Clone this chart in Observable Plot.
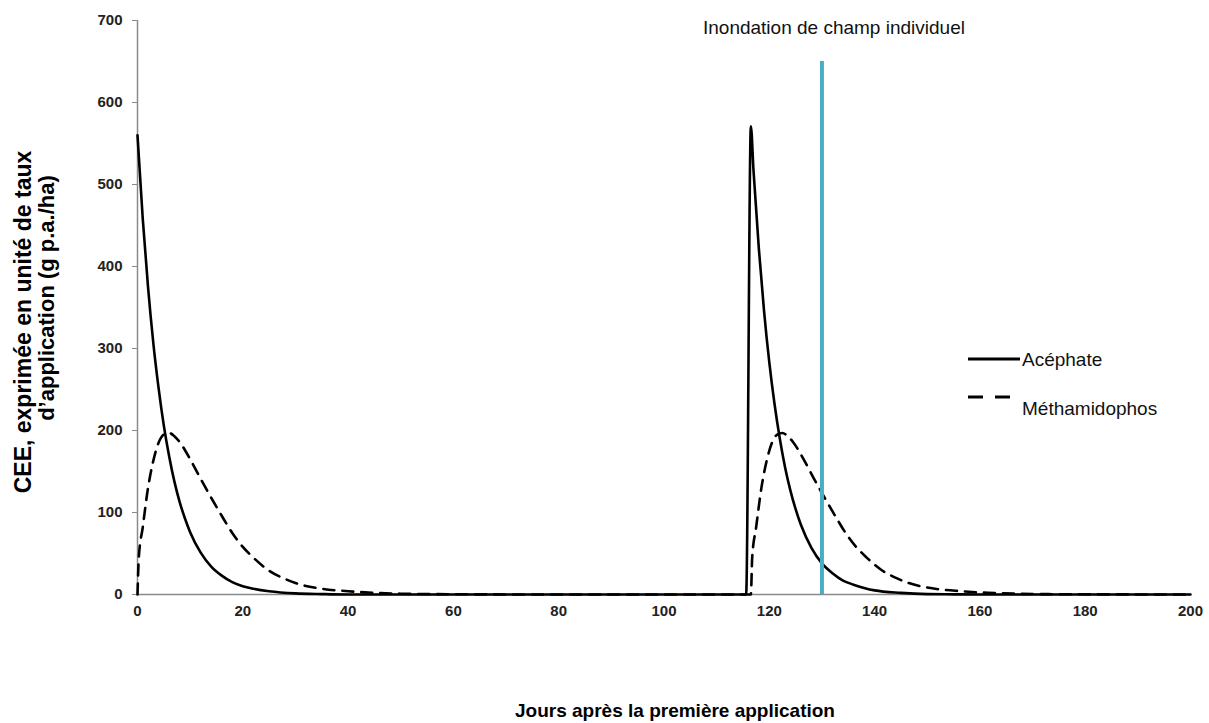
<!DOCTYPE html>
<html>
<head>
<meta charset="utf-8">
<script src="https://cdn.jsdelivr.net/npm/d3@7"></script>
<script src="https://cdn.jsdelivr.net/npm/@observablehq/plot@0.6"></script>
<style>
  html, body { margin: 0; padding: 0; background: #fff; }
  #chart { position: relative; width: 1209px; height: 723px; }
</style>
</head>
<body>
<div id="chart"></div>
<script>
// ---- data ----
const xTicks = [0, 20, 40, 60, 80, 100, 120, 140, 160, 180, 200];
const yTicks = [0, 100, 200, 300, 400, 500, 600, 700];

const acephateDays = [0, 1, 2, 3, 4, 5, 6, 7, 8, 9, 10, 12, 14, 16, 18, 20, 22, 25, 30, 35, 40, 60, 80, 100, 115.6,
  116.5, 117, 118, 119, 120, 121, 122, 123, 124, 125, 126, 128, 130, 132, 134, 136, 138, 140, 145, 150, 155, 160, 180, 200];
const acephateValues = [560, 458, 375, 307, 252, 206, 169, 138, 113, 93, 76, 51, 34, 23, 15, 10, 7, 4, 1.4, 0.5, 0, 0, 0, 0, 0,
  571, 517, 423, 346, 283, 232, 190, 155, 127, 104, 85, 57, 38, 26, 17, 12, 8, 5, 2, 0.5, 0.2, 0, 0, 0];

const methDays = [0, 0.25, 1, 2, 3, 4, 5, 6, 7, 8, 10, 12, 14, 16, 18, 20, 22, 25, 28, 30, 35, 40, 45, 50, 60, 80, 100, 116.5,
  116.75, 117.5, 118.5, 119.5, 120.5, 121.5, 122.5, 123.5, 124.5, 126.5, 128.5, 130.5, 132.5, 134.5, 136.5, 138.5, 141.5, 144.5,
  146.5, 151.5, 156.5, 161.5, 166.5, 176.5, 200];
const methValues = [0, 45, 82, 130, 163, 185, 195, 197, 193, 186, 165, 141, 118, 96, 75, 58, 45, 29, 19, 14, 7, 4, 2, 1, 0.3, 0, 0, 0,
  45, 82, 130, 163, 185, 195, 197, 193, 186, 165, 141, 118, 96, 75, 58, 45, 29, 19,
  14, 7, 4, 2, 1, 0.3, 0];

const floodDay = [130];
const floodTop = 650;
const floodLabel = "Inondation de champ individuel";
const seriesNames = ["Acéphate", "Méthamidophos"];
const xTitle = "Jours après la première application";
const yTitleLines = ["CEE, exprimée en unité de taux", "d\u2019application (g p.a./ha)"];

// ---- tables ----
const acephate = acephateDays.map((d, i) => ({day: d, value: acephateValues[i]}));
const meth = methDays.map((d, i) => ({day: d, value: methValues[i]}));

const FONT = "'Liberation Sans', Arial, Helvetica, sans-serif";
const AXIS_GRAY = "#8a8a8a";

const chart = Plot.plot({
  width: 1209,
  height: 723,
  marginLeft: 137,
  marginRight: 19,
  marginTop: 20,
  marginBottom: 129,
  style: {fontFamily: FONT, fontSize: "15px", background: "#fff", color: "#222"},
  x: {domain: [0, 200]},
  y: {domain: [0, 700]},
  marks: [
    Plot.axisY({ticks: yTicks, tickSize: 5, tickPadding: 10, stroke: AXIS_GRAY, fill: "#222",
      fontWeight: "bold", fontSize: 15, label: null}),
    Plot.axisX({ticks: xTicks, tickSize: 0, tickPadding: 11, fill: "#222",
      fontWeight: "bold", fontSize: 15, label: null}),
    Plot.ruleY([0], {stroke: AXIS_GRAY, strokeWidth: 1.5}),
    Plot.ruleX([0], {stroke: AXIS_GRAY, strokeWidth: 1.5}),
    Plot.line(meth, {x: "day", y: "value", stroke: "#000", strokeWidth: 2.6,
      strokeDasharray: "11,8", curve: "monotone-x"}),
    Plot.line(acephate, {x: "day", y: "value", stroke: "#000", strokeWidth: 2.6, curve: "monotone-x"}),
    Plot.ruleX(floodDay, {y1: 0, y2: floodTop, stroke: "#4BACC6", strokeWidth: 4}),
    Plot.text(floodDay, {x: d => d, frameAnchor: "top", text: () => floodLabel, dx: 12, dy: 13,
      lineAnchor: "bottom", fontSize: 19, fill: "#111", fontFamily: FONT})
  ]
});

document.getElementById("chart").appendChild(chart);

// titles & legend added to the same svg
const svg = d3.select(chart);

// y-axis title (two lines, rotated)
svg.append("text")
  .attr("transform", "translate(31,322) rotate(-90)")
  .attr("text-anchor", "middle")
  .style("font-family", FONT)
  .style("font-size", "23px")
  .style("font-weight", "bold")
  .attr("fill", "#000")
  .text(yTitleLines[0]);
svg.append("text")
  .attr("transform", "translate(54,298) rotate(-90)")
  .attr("text-anchor", "middle")
  .style("font-family", FONT)
  .style("font-size", "22px")
  .style("font-weight", "bold")
  .attr("fill", "#000")
  .text(yTitleLines[1]);

// x-axis title
svg.append("text")
  .attr("x", 675).attr("y", 717)
  .attr("text-anchor", "middle")
  .style("font-family", FONT)
  .style("font-size", "19px")
  .style("font-weight", "bold")
  .attr("fill", "#000")
  .text(xTitle);

// legend
const lg = svg.append("g").style("font-family", FONT).style("font-size", "19px")
  .attr("text-anchor", "start");
lg.append("line").attr("x1", 968).attr("x2", 1020).attr("y1", 359).attr("y2", 359)
  .attr("stroke", "#000").attr("stroke-width", 3);
lg.append("text").attr("x", 1022).attr("y", 366).attr("text-anchor", "start")
  .attr("fill", "#111").text(seriesNames[0]);
lg.append("line").attr("x1", 968).attr("x2", 1010).attr("y1", 397).attr("y2", 397)
  .attr("stroke", "#000").attr("stroke-width", 3).attr("stroke-dasharray", "15,12");
lg.append("text").attr("x", 1022).attr("y", 415).attr("text-anchor", "start")
  .attr("fill", "#111").text(seriesNames[1]);
</script>
</body>
</html>
